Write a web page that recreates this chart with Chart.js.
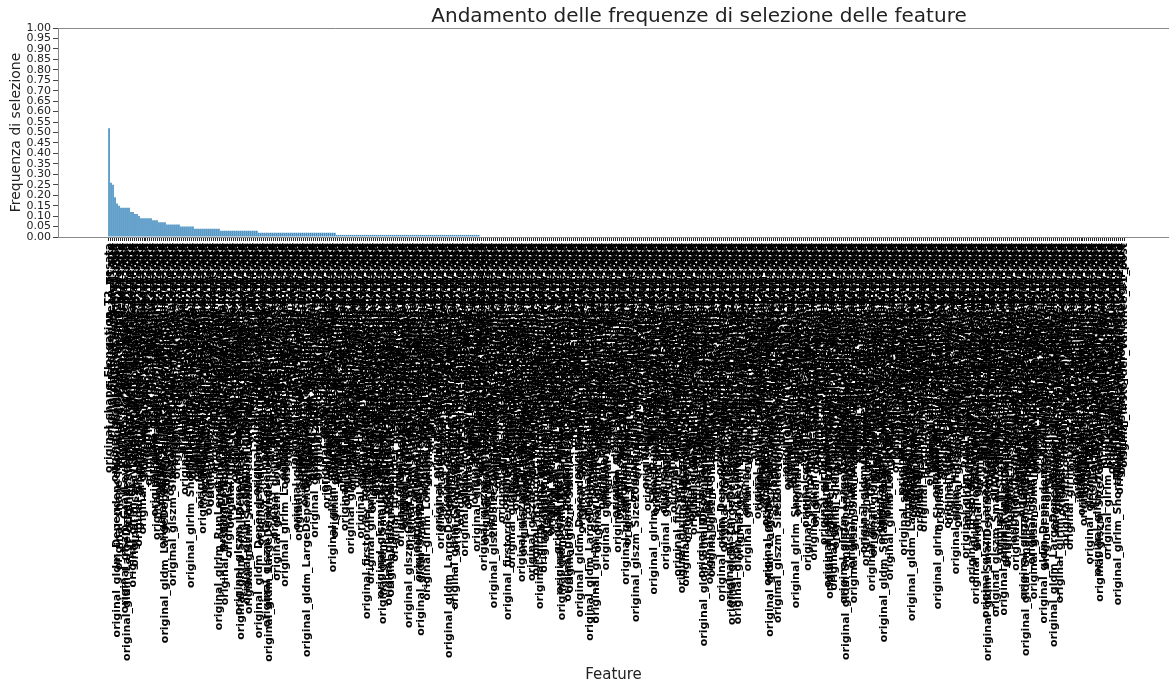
<!DOCTYPE html>
<html>
<head>
<meta charset="utf-8">
<script src="https://cdn.jsdelivr.net/npm/chart.js@4/dist/chart.umd.min.js"></script>
<style>
html,body{margin:0;padding:0;background:#fff;overflow:hidden}
</style>
</head>
<body>
<canvas id="freqChart" width="1169" height="684"></canvas>
<script>
// frequenze di selezione, ordinate in modo decrescente
const freq = [
0.52,0.26,0.25,0.19,0.16,0.15,0.14,0.14,0.14,0.14,0.14,0.12,0.12,0.11,0.11,0.10,
0.09,0.09,0.09,0.09,0.09,0.09,
0.08,0.08,0.08,
0.07,0.07,0.07,0.07,
0.06,0.06,0.06,0.06,0.06,0.06,0.06,
0.05,0.05,0.05,0.05,0.05,0.05,0.05,
0.04,0.04,0.04,0.04,0.04,0.04,0.04,0.04,0.04,0.04,0.04,0.04,0.04,
0.03,0.03,0.03,0.03,0.03,0.03,0.03,0.03,0.03,0.03,
0.03,0.03,0.03,0.03,0.03,0.03,0.03,0.03,0.03,
0.02,0.02,0.02,0.02,0.02,0.02,0.02,0.02,0.02,0.02,0.02,0.02,0.02,
0.02,0.02,0.02,0.02,0.02,0.02,0.02,0.02,0.02,0.02,0.02,0.02,0.02,
0.02,0.02,0.02,0.02,0.02,0.02,0.02,0.02,0.02,0.02,0.02,0.02,0.02,
0.01,0.01,0.01,0.01,0.01,0.01,0.01,0.01,0.01,0.01,0.01,0.01,
0.01,0.01,0.01,0.01,0.01,0.01,0.01,0.01,0.01,0.01,0.01,0.01,
0.01,0.01,0.01,0.01,0.01,0.01,0.01,0.01,0.01,0.01,0.01,0.01,
0.01,0.01,0.01,0.01,0.01,0.01,0.01,0.01,0.01,0.01,0.01,0.01,
0.01,0.01,0.01,0.01,0.01,0.01,0.01,0.01,0.01,0.01,0.01,0.01,
0.01,0.01,0.01,0.01,0.01,0.01,0.01,0.01,0.01,0.01,0.01,0.01,
0,0,0,0,0,0,0,0,0,0,0,0,0,0,0,0,0,0,0,0,
0,0,0,0,0,0,0,0,0,0,0,0,0,0,0,0,0,0,0,0,
0,0,0,0,0,0,0,0,0,0,0,0,0,0,0,0,0,0,0,0,
0,0,0,0,0,0,0,0,0,0,0,0,0,0,0,0,0,0,0,0,
0,0,0,0,0,0,0,0,0,0,0,0,0,0,0,0,0,0,0,0,
0,0,0,0,0,0,0,0,0,0,0,0,0,0,0,0,0,0,0,0,
0,0,0,0,0,0,0,0,0,0,0,0,0,0,0,0,0,0,0,0,
0,0,0,0,0,0,0,0,0,0,0,0,0,0,0,0,0,0,0,0,
0,0,0,0,0,0,0,0,0,0,0,0,0,0,0,0,0,0,0,0,
0,0,0,0,0,0,0,0,0,0,0,0,0,0,0,0,0,0,0,0,
0,0,0,0,0,0,0,0,0,0,0,0,0,0,0,0,0,0,0,0,
0,0,0,0,0,0,0,0,0,0,0,0,0,0,0,0,0,0,0,0,
0,0,0,0,0,0,0,0,0,0,0,0,0,0,0,0,0,0,0,0,
0,0,0,0,0,0,0,0,0,0,0,0,0,0,0,0,0,0,0,0,
0,0,0,0,0,0,0,0,0,0,0,0,0,0,0,0,0,0,0,0,
0,0,0,0,0,0,0,0,0,0,0,0,0,0,0,0,0,0,0,0,
0,0,0
]

// nomi delle feature radiomiche (le etichette non sono leggibili nel grafico)
const shapeFeat = ["Elongation","Flatness","LeastAxisLength","MajorAxisLength","Maximum2DDiameterColumn","Maximum2DDiameterRow","Maximum2DDiameterSlice","Maximum3DDiameter","MeshVolume","MinorAxisLength","Sphericity","SurfaceArea","SurfaceVolumeRatio","VoxelVolume"]
const firstorderFeat = ["10Percentile","90Percentile","Energy","Entropy","InterquartileRange","Kurtosis","Maximum","MeanAbsoluteDeviation","Mean","Median","Minimum","Range","RobustMeanAbsoluteDeviation","RootMeanSquared","Skewness","TotalEnergy","Uniformity","Variance"]
const glcmFeat = ["Autocorrelation","ClusterProminence","ClusterShade","ClusterTendency","Contrast","Correlation","DifferenceAverage","DifferenceEntropy","DifferenceVariance","Id","Idm","Idmn","Idn","Imc1","Imc2","InverseVariance","JointAverage","JointEnergy","JointEntropy","MCC","MaximumProbability","SumAverage","SumEntropy","SumSquares"]
const glrlmFeat = ["GrayLevelNonUniformity","GrayLevelNonUniformityNormalized","GrayLevelVariance","HighGrayLevelRunEmphasis","LongRunEmphasis","LongRunHighGrayLevelEmphasis","LongRunLowGrayLevelEmphasis","LowGrayLevelRunEmphasis","RunEntropy","RunLengthNonUniformity","RunLengthNonUniformityNormalized","RunPercentage","RunVariance","ShortRunEmphasis","ShortRunHighGrayLevelEmphasis","ShortRunLowGrayLevelEmphasis"]
const glszmFeat = ["GrayLevelNonUniformity","GrayLevelNonUniformityNormalized","GrayLevelVariance","HighGrayLevelZoneEmphasis","LargeAreaEmphasis","LargeAreaHighGrayLevelEmphasis","LargeAreaLowGrayLevelEmphasis","LowGrayLevelZoneEmphasis","SizeZoneNonUniformity","SizeZoneNonUniformityNormalized","SmallAreaEmphasis","SmallAreaHighGrayLevelEmphasis","SmallAreaLowGrayLevelEmphasis","ZoneEntropy","ZonePercentage","ZoneVariance"]
const gldmFeat = ["DependenceEntropy","DependenceNonUniformity","DependenceNonUniformityNormalized","DependenceVariance","GrayLevelNonUniformity","GrayLevelVariance","HighGrayLevelEmphasis","LargeDependenceEmphasis","LargeDependenceHighGrayLevelEmphasis","LargeDependenceLowGrayLevelEmphasis","LowGrayLevelEmphasis","SmallDependenceEmphasis","SmallDependenceHighGrayLevelEmphasis","SmallDependenceLowGrayLevelEmphasis"]
const ngtdmFeat = ["Busyness","Coarseness","Complexity","Contrast","Strength"]
const imageTags = ["T2_pesata","ADC","DWI_b800","T1_pre","T1_post"]

const titolo = "Andamento delle frequenze di selezione delle feature"

const classes = [["shape",shapeFeat],["firstorder",firstorderFeat],["glcm",glcmFeat],["glrlm",glrlmFeat],["glszm",glszmFeat],["gldm",gldmFeat],["ngtdm",ngtdmFeat]]

const allNames = []
classes.forEach(c=>{
c[1].forEach(f=>{
imageTags.forEach(t=>{
allNames.push("original_" + c[0] + "_" + f + "_" + t)
})
})
})

const featureLabels = freq.map((v,i)=>allNames[(i*113) % allNames.length])

// bordo superiore del riquadro e titolo (spostato a destra come nell'originale)
const cornice = {
id:"cornice",
afterDraw(chart){
const a = chart.chartArea
const ctx = chart.ctx
ctx.save()
ctx.strokeStyle = "#8a8a8a"
ctx.lineWidth = 1
ctx.beginPath()
ctx.moveTo(a.left, Math.round(a.top)+0.5)
ctx.lineTo(a.right, Math.round(a.top)+0.5)
ctx.stroke()
ctx.fillStyle = "#222"
ctx.font = "20px 'DejaVu Sans', sans-serif"
ctx.textAlign = "center"
ctx.textBaseline = "middle"
ctx.fillText(titolo, 699, 17)
ctx.restore()
}
}

Chart.defaults.font.family = "'DejaVu Sans', sans-serif"

new Chart(document.getElementById("freqChart"),{
type:"bar",
data:{
datasets:[{
data:freq.map((v,i)=>({x:i, y:v})),
backgroundColor:"rgba(31,119,180,0.85)",
borderWidth:0,
barPercentage:1,
categoryPercentage:0.8
}]
},
options:{
responsive:false,
animation:false,
layout:{padding:{top:28, left:0, right:0, bottom:0}},
plugins:{
legend:{display:false},
tooltip:{enabled:false},
title:{display:false}
},
scales:{
x:{
type:"linear",
min:-25,
max:530,
afterBuildTicks:s=>{ s.ticks = s.ticks.filter(t=>Number.isInteger(t.value) && t.value>=0 && t.value<freq.length) },
afterFit:s=>{ s.height = 447 },
ticks:{
stepSize:1,
autoSkip:false,
minRotation:90,
maxRotation:90,
padding:2,
color:"#000",
font:{size:11, weight:"bold"},
callback:v=>featureLabels[v]
},
grid:{display:true, drawOnChartArea:false, drawTicks:true, tickLength:4, color:"#222"},
border:{display:true, color:"#8a8a8a"},
title:{display:true, text:"Feature", color:"#222", font:{size:15}, padding:{top:0, bottom:0}}
},
y:{
min:0,
max:1,
afterFit:s=>{ s.width = 58 },
ticks:{
stepSize:0.05,
autoSkip:false,
color:"#222",
font:{size:11},
padding:2,
callback:v=>v.toFixed(2)
},
grid:{drawOnChartArea:false, tickLength:5, color:"#444"},
border:{color:"#8a8a8a"},
title:{display:true, text:"Frequenza di selezione", color:"#222", font:{size:14}, padding:{top:8, bottom:0}}
}
}
},
plugins:[cornice]
})
</script>
</body>
</html>
